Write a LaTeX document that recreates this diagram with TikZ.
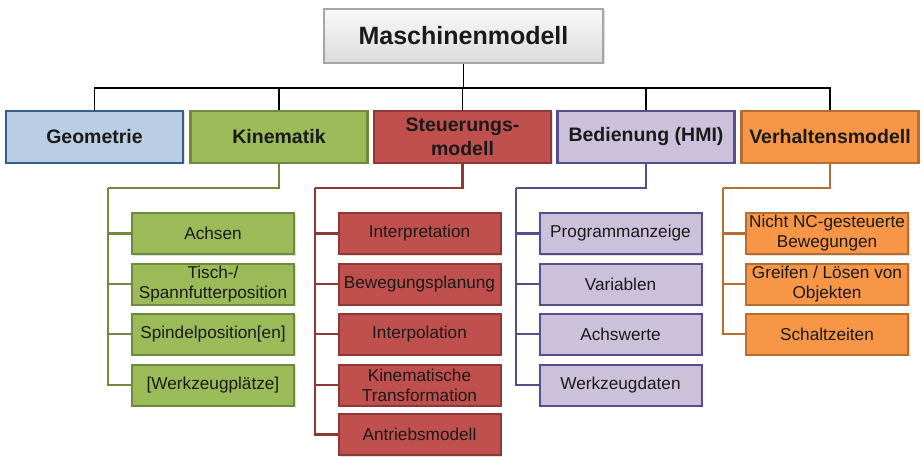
\documentclass[tikz,border=0pt]{standalone}
\usepackage{fontspec}
\setmainfont{Liberation Sans}
\usetikzlibrary{shadows}
\definecolor{grayBd}{HTML}{A6A6A6}
\definecolor{blueF}{HTML}{B9CDE5}\definecolor{blueB}{HTML}{385D8A}
\definecolor{greenF}{HTML}{9BBB59}\definecolor{greenB}{HTML}{71893F}
\definecolor{redF}{HTML}{C0504D}\definecolor{redB}{HTML}{8C3836}
\definecolor{lilaF}{HTML}{CCC1DA}\definecolor{lilaB}{HTML}{574C8C}
\definecolor{orF}{HTML}{F79646}\definecolor{orB}{HTML}{B66D31}
\definecolor{txt}{HTML}{1A1A1A}
\tikzset{
  boxbase/.style={draw, line width=2.2pt, inner sep=0pt, align=center, text=txt,
    drop shadow={opacity=0.25, shadow xshift=1.5pt, shadow yshift=-1.5pt}},
  topbox/.style={boxbase, minimum width=177pt, minimum height=52pt,
    font=\fontsize{19.5}{23.5}\selectfont\bfseries},
  subbox/.style={boxbase, line width=2pt, minimum width=162pt, minimum height=41pt,
    font=\fontsize{17.2}{20}\selectfont},
  root/.style={boxbase, draw=grayBd, top color=white!95!gray, bottom color=gray!28,
    minimum width=279pt, minimum height=54pt,
    font=\fontsize{25}{30}\selectfont\bfseries},
  blk/.style={line width=1.3pt, draw=black},
  br/.style={line width=2.1pt}
}
\begin{document}
\begin{tikzpicture}[x=1pt, y=-1pt]
\useasboundingbox (0,0) rectangle (923,457);

% root and first level
\node[root] (mm) at (463.5,36) {Maschinenmodell};
\node[topbox, fill=blueF, draw=blueB] (geo) at (94.5,137) {Geometrie};
\node[topbox, fill=greenF, draw=greenB] (kin) at (279,137) {Kinematik};
\node[topbox, fill=redF, draw=redB] (steu) at (462.5,137) {Steuerungs-\\modell};
\node[topbox, fill=lilaF, draw=lilaB] (bed) at (646,137) {Bedienung (HMI)};
\node[topbox, fill=orF, draw=orB] (ver) at (830,137) {Verhaltensmodell};

% bus between root and first level
\coordinate (bus) at (463.5,88);
\draw[blk] (mm.south) -- (bus);
\foreach \n in {geo,kin,steu,bed,ver} \draw[blk] (\n.north) |- (bus);

% Kinematik
\node[subbox, fill=greenF, draw=greenB] (k1) at (213,233.5) {Achsen};
\node[subbox, fill=greenF, draw=greenB] (k2) at (213,284) {Tisch-/\\Spannfutterposition};
\node[subbox, fill=greenF, draw=greenB] (k3) at (213,334) {Spindelposition[en]};
\node[subbox, fill=greenF, draw=greenB] (k4) at (213,385) {[Werkzeugplätze]};
\coordinate (kt) at (108,188);
\draw[br, draw=greenB] (kin.south) |- (kt);
\foreach \n in {k1,k2,k3,k4} \draw[br, draw=greenB] (kt) |- (\n.west);

% Steuerungsmodell
\node[subbox, fill=redF, draw=redB] (s1) at (419.5,233.5) {Interpretation};
\node[subbox, fill=redF, draw=redB] (s2) at (419.5,284) {Bewegungsplanung};
\node[subbox, fill=redF, draw=redB] (s3) at (419.5,334) {Interpolation};
\node[subbox, fill=redF, draw=redB] (s4) at (419.5,385) {Kinematische\\Transformation};
\node[subbox, fill=redF, draw=redB] (s5) at (419.5,434.5) {Antriebsmodell};
\coordinate (st) at (315,188);
\draw[br, draw=redB] (steu.south) |- (st);
\foreach \n in {s1,s2,s3,s4,s5} \draw[br, draw=redB] (st) |- (\n.west);

% Bedienung (HMI)
\node[subbox, fill=lilaF, draw=lilaB] (b1) at (620.5,233.5) {Programmanzeige};
\node[subbox, fill=lilaF, draw=lilaB] (b2) at (620.5,284) {Variablen};
\node[subbox, fill=lilaF, draw=lilaB] (b3) at (620.5,334) {Achswerte};
\node[subbox, fill=lilaF, draw=lilaB] (b4) at (620.5,385) {Werkzeugdaten};
\coordinate (bt) at (516,188);
\draw[br, draw=lilaB] (bed.south) |- (bt);
\foreach \n in {b1,b2,b3,b4} \draw[br, draw=lilaB] (bt) |- (\n.west);

% Verhaltensmodell
\node[subbox, fill=orF, draw=orB] (v1) at (827,233.5) {Nicht NC-gesteuerte\\Bewegungen};
\node[subbox, fill=orF, draw=orB] (v2) at (827,284) {Greifen / Lösen von\\Objekten};
\node[subbox, fill=orF, draw=orB] (v3) at (827,334) {Schaltzeiten};
\coordinate (vt) at (723,188);
\draw[br, draw=orB] (ver.south) |- (vt);
\foreach \n in {v1,v2,v3} \draw[br, draw=orB] (vt) |- (\n.west);
\end{tikzpicture}
\end{document}
